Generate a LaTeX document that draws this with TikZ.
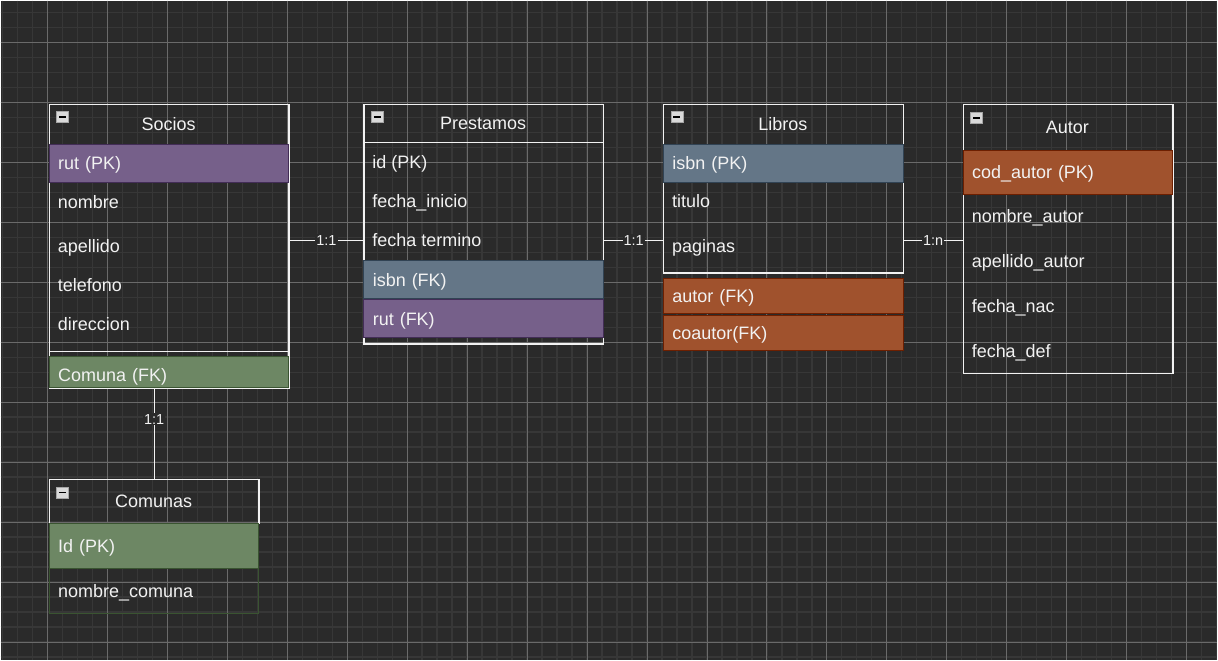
\documentclass[tikz,border=0pt]{standalone}
\usepackage{fontspec}
\setmainfont{Liberation Sans}
\usetikzlibrary{positioning}
\definecolor{fondo}{HTML}{2A2A2A}
\definecolor{menor}{HTML}{373737}
\definecolor{mayor}{HTML}{6A6A6A}
\definecolor{texto}{HTML}{F2F2F2}
\definecolor{morado}{HTML}{76608A}\definecolor{moradob}{HTML}{432D57}
\definecolor{pizarra}{HTML}{647687}\definecolor{pizarrab}{HTML}{314354}
\definecolor{naranja}{HTML}{A0522D}\definecolor{naranjab}{HTML}{6D1F00}
\definecolor{verde}{HTML}{6D8764}\definecolor{verdeb}{HTML}{3A5431}
\newcommand\campo{\fontsize{18}{21}\selectfont}

\begin{document}
\begin{tikzpicture}[x=1pt, y=-1pt,
    caja/.style={draw=texto, line width=1.2pt, anchor=north west, inner sep=0pt},
    tit/.style={text=texto, font=\campo},
    fila/.style={anchor=west, text=texto, font=\campo, inner sep=0pt, text height=12.5pt, text depth=0pt},
    clave/.style={anchor=north west, text=texto, font=\campo, inner xsep=9pt, inner ysep=0pt,
        text width=222pt, align=left, line width=1pt, text height=16pt, text depth=3pt},
    rel/.style={draw=texto, line width=1.2pt},
    card/.style={fill=fondo, text=texto, font=\fontsize{14.5}{17}\selectfont, inner sep=1pt}]
    % FONDO
    \fill[fondo] (0,0) rectangle (1218,660);
    \foreach \x in {2,17,...,1217} \draw[menor, line width=1.5pt] (\x,0) -- (\x,660);
    \foreach \y in {12,27,...,657} \draw[menor, line width=1.5pt] (0,\y) -- (1218,\y);
    \foreach \x in {47,107,...,1187} \draw[mayor, line width=0.7pt] (\x,0) -- (\x,660);
    \foreach \y in {42,102,...,642} \draw[mayor, line width=0.7pt] (0,\y) -- (1218,\y);
    \useasboundingbox (0,0) rectangle (1218,660);

    % Socios
    \node[caja, minimum width=240pt, minimum height=285pt] (socios) at (48,103) {};
    \draw[rel] (48,351) -- (288,351);
    \node[tit] (tsocios) at (168,123) {Socios};
    \node[clave, fill=morado, draw=moradob, minimum height=38pt] (srut) at (48,143) {rut (PK)};
    \node[fila] (snombre) at (57,202) {nombre};
    \node[fila] (sapellido) at (57,246) {apellido};
    \node[fila] (stelefono) at (57,285) {telefono};
    \node[fila] (sdireccion) at (57,324) {direccion};
    \node[clave, fill=verde, draw=verdeb, minimum height=31pt, text height=21pt, text depth=2pt] (scomuna) at (48,356) {Comuna (FK)};

    % Prestamos
    \node[caja, minimum width=240pt, minimum height=240pt] (prestamos) at (363,103) {};
    \draw[rel] (363,142) -- (603,142);
    \node[tit] (tprestamos) at (483,123) {Prestamos};
    \node[fila] (pid) at (372,162) {id (PK)};
    \node[fila] (pinicio) at (372,201) {fecha\_inicio};
    \node[fila] (ptermino) at (372,240) {fecha termino};
    \node[clave, fill=pizarra, draw=pizarrab, minimum height=38pt] (pisbn) at (363,260) {isbn (FK)};
    \node[clave, fill=morado, draw=moradob, minimum height=38pt] (prut) at (363,299) {rut (FK)};

    % Libros
    \node[caja, minimum width=240pt, minimum height=169pt] (libros) at (663,103) {};
    \node[tit] (tlibros) at (783,123) {Libros};
    \node[clave, fill=pizarra, draw=pizarrab, minimum height=38pt] (lisbn) at (663,143) {isbn (PK)};
    \node[fila] (ltitulo) at (672,201) {titulo};
    \node[fila] (lpaginas) at (672,246) {paginas};
    \node[clave, fill=naranja, draw=naranjab, minimum height=35pt] (lautor) at (663,278) {autor (FK)};
    \node[clave, fill=naranja, draw=naranjab, minimum height=35pt] (lcoautor) at (663,315) {coautor(FK)};

    % Autor
    \node[caja, minimum width=210pt, minimum height=270pt] (autor) at (963,103) {};
    \node[tit] (tautor) at (1068,127) {Autor};
    \node[clave, text width=192pt, fill=naranja, draw=naranjab, minimum height=44pt] (acod) at (963,149) {cod\_autor (PK)};
    \node[fila] (anombre) at (972,216) {nombre\_autor};
    \node[fila] (aapellido) at (972,261) {apellido\_autor};
    \node[fila] (anac) at (972,306) {fecha\_nac};
    \node[fila] (adef) at (972,351) {fecha\_def};

    % Comunas
    \node[caja, minimum width=210pt, minimum height=44pt] (comunas) at (48,479) {};
    \node[tit] (tcomunas) at (153,501) {Comunas};
    \node[clave, text width=192pt, fill=verde, draw=verdeb, minimum height=45pt] (cid) at (48,523) {Id (PK)};
    \node[clave, text width=192pt, draw=verdeb, minimum height=45pt] (cnombre) at (48,568) {nombre\_comuna};

    % iconos
    \foreach \x/\y in {56/111,371/111,671/111,971/112,56/487}{
        \filldraw[fill=gray!30!white, draw=gray!70] (\x,\y) rectangle ++(12,11);
        \draw[black, line width=1.6pt] (\x+2.5,\y+5.5) -- ++(7,0);
    }

    % RELACIONES
    \draw[rel] (socios.east |- ptermino) -- node[card] (r1) {1:1} (prestamos.west |- ptermino);
    \draw[rel] (prestamos.east |- ptermino) -- node[card] (r2) {1:1} (libros.west |- ptermino);
    \draw[rel] (libros.east |- ptermino) -- node[card] (r3) {1:n} (autor.west |- ptermino);
    \draw[rel] (comunas.north |- socios.south) -- node[card, pos=0.33] (r4) {1:1} (comunas.north);
\end{tikzpicture}
\end{document}
